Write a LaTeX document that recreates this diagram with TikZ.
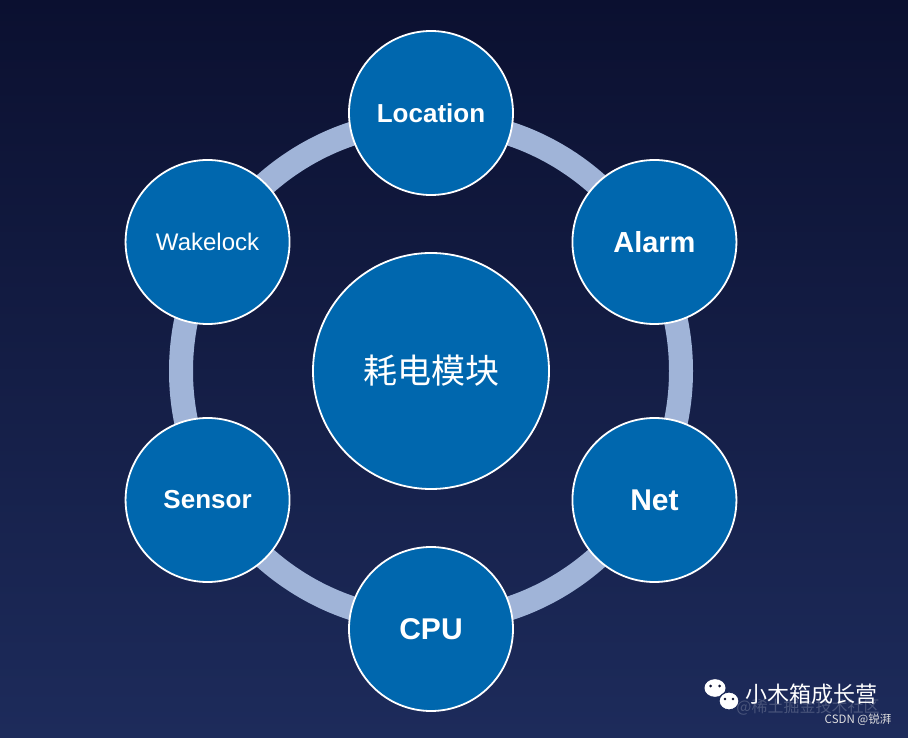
\documentclass[tikz,border=0pt]{standalone}
\usepackage{fontspec}
\setmainfont{Liberation Sans}
\newfontfamily\cjk{Noto Sans CJK SC}

\definecolor{bgtop}{HTML}{0B1030}
\definecolor{bgbottom}{HTML}{1D2B5B}
\definecolor{ringblue}{HTML}{A0B4D8}
\definecolor{moduleblue}{HTML}{0067AE}

\tikzset{
  module/.style={circle, fill=moduleblue, draw=white, line width=1.8pt,
                 text=white, minimum size=164pt, inner sep=0pt},
  hub/.style={module, minimum size=236pt,
              font=\cjk\fontsize{34}{40}\selectfont},
  bubble/.style={fill=white, draw=bgbottom, line width=1.2pt},
}

\begin{document}
\begin{tikzpicture}[x=1pt,y=1pt]
\shade[top color=bgtop, bottom color=bgbottom] (0,0) rectangle (908,737);
\useasboundingbox (0,0) rectangle (908,737);

\coordinate (center) at (431,366);
\draw[ringblue, line width=24pt] (center) circle (250pt);

\node[hub] (power) at (center) {耗电模块};

% module ring: name/angle/label/size/weight
\foreach \name/\ang/\label/\fs/\wt in {location/90/Location/26/\bfseries,
                                       alarm/30/Alarm/29/\bfseries,
                                       net/-30/Net/30/\bfseries,
                                       cpu/-90/CPU/30/\bfseries,
                                       sensor/210/Sensor/26/\bfseries,
                                       wakelock/150/Wakelock/24/\mdseries}
  \node[module, font=\wt\fontsize{\fs}{\fs}\selectfont]
       (\name) at ([shift={(\ang:258pt)}]center) {\label};

% watermark
\fill[white] (715,49) ellipse (10.5pt and 8.8pt);
\fill[bgtop] (710.5,51) circle (1.5pt) (719.5,51) circle (1.5pt);
\draw[bubble] (729,36) ellipse (10pt and 9pt);
\fill[bgtop] (725,38) circle (1.3pt) (733,38) circle (1.3pt);
\node[text=white, font=\cjk\fontsize{22}{24}\selectfont] (brand) at (811,43) {小木箱成长营};
\node[text=white, opacity=0.2, font=\cjk\fontsize{16}{18}\selectfont] (juejin) at (808,30) {@稀土掘金技术社区};
\node[text=gray!25, font=\cjk\fontsize{11.5}{13}\selectfont] (csdn) at (858,17) {CSDN @锐湃};
\end{tikzpicture}
\end{document}
